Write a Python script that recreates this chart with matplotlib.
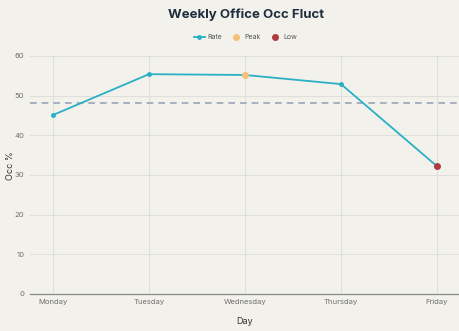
import matplotlib
matplotlib.use("Agg")
import matplotlib.pyplot as plt
import numpy as np

days = ["Monday", "Tuesday", "Wednesday", "Thursday", "Friday"]
rate = [45.1, 55.4, 55.2, 52.9, 32.2]
peak_idx = 2
low_idx = 4
yticks = [0, 10, 20, 30, 40, 50, 60]

plt.rcParams['font.family'] = ['Inter', 'DejaVu Sans']
bg = "#f2f1ec"
fig = plt.figure(figsize=(4.6, 3.31), dpi=100, facecolor=bg)
ax = fig.add_axes([0.065, 0.112, 0.935, 0.719], facecolor=bg)

x = np.arange(len(days))
ax.plot(x, rate, color="#2ab0c5", lw=1.3, marker="o", ms=2.5, label="Rate", zorder=3)
ax.plot([x[peak_idx]], [rate[peak_idx]], "o", color="#f5c07a", ms=4, label="Peak", zorder=4)
ax.plot([x[low_idx]], [rate[low_idx]], "o", color="#b03a3e", ms=4, label="Low", zorder=4)
ax.axhline(np.mean(rate), color="#9aa5b8", lw=1.2, ls=(0, (4, 3)), zorder=2)

ax.set_xlim(-0.24, 4.24)
ax.set_ylim(0, 60)
ax.set_xticks(x)
ax.set_xticklabels(days)
ax.set_yticks(yticks)
ax.grid(True, color="#dedfdb", lw=0.7)
ax.set_axisbelow(True)
for s in ["top", "right", "left"]:
    ax.spines[s].set_visible(False)
ax.spines["bottom"].set_color("#8a8a8a")
ax.spines["bottom"].set_linewidth(0.9)
ax.tick_params(length=0, labelsize=5.5, labelcolor="#707070", pad=4)
ax.set_xlabel("Day", fontsize=6.5, color="#333333", labelpad=8)
ax.set_ylabel("Occ %", fontsize=6.5, color="#333333")
ax.yaxis.set_label_coords(0.032, 0.5, transform=fig.transFigure)

fig.text(0.535, 0.955, "Weekly Office Occ Fluct", ha="center", va="center",
         fontsize=9.5, fontweight="bold", color="#1f2d3d")
fig.legend(loc="center", bbox_to_anchor=(0.533, 0.888), ncol=3, frameon=False,
           fontsize=5, labelcolor="#555555", handlelength=1.6, columnspacing=1.2,
           handletextpad=0.4)

fig.savefig("out.png", dpi=100, facecolor=bg)
